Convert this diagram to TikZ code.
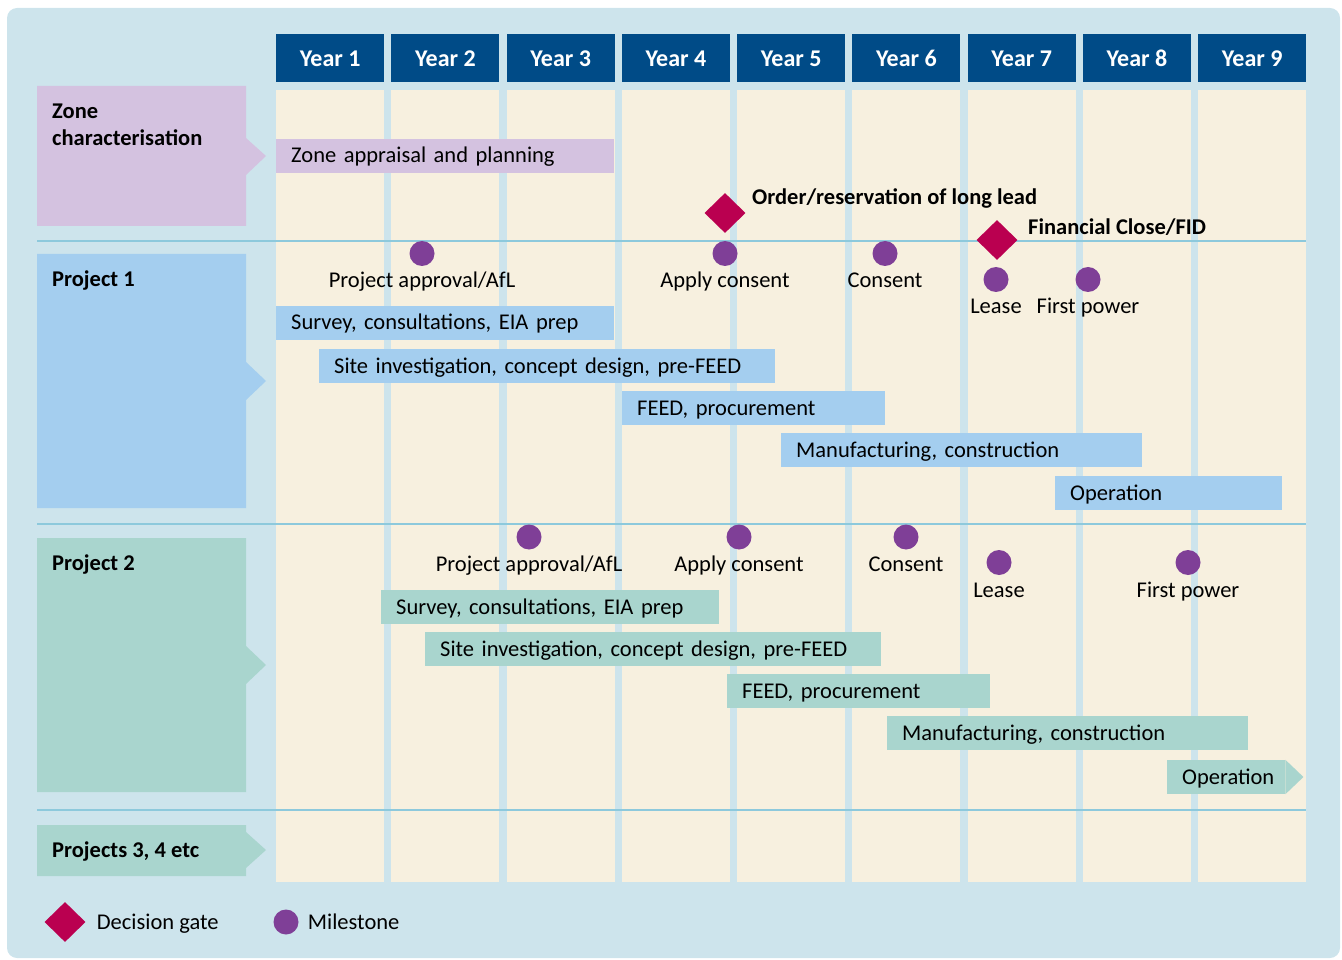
\documentclass[tikz,border=0pt]{standalone}
\usepackage{fontspec}
\setmainfont{Carlito}
\usepackage{tikz}
\usetikzlibrary{positioning,shapes.geometric,calc}
\definecolor{fondbleu}{HTML}{CDE4EC}
\definecolor{marine}{HTML}{004B87}
\definecolor{creme}{HTML}{F7F0DF}
\definecolor{lavande}{HTML}{D4C2E0}
\definecolor{bleuP}{HTML}{A4CEEF}
\definecolor{vertP}{HTML}{A9D5CE}
\definecolor{magenta}{HTML}{BA0050}
\definecolor{violet}{HTML}{7F3F97}
\definecolor{filet}{HTML}{8DC9DC}
\newcommand{\fs}{\fontsize{22.5}{27}\selectfont}
\tikzset{
  annee/.style={rectangle, fill=marine, text=white, font=\bfseries\fontsize{24}{28}\selectfont,
                anchor=north west, minimum width=108pt, minimum height=48pt, inner sep=0pt,
                text height=18pt, text depth=2pt},
  barre/.style={rectangle, fill=#1, anchor=west, align=left, font=\fs, inner xsep=15pt,
                inner ysep=0pt, minimum height=34pt, text height=17pt, text depth=3pt},
  titre/.style={anchor=north west, align=left, font=\bfseries\fs, inner sep=0pt},
  etiq/.style={font=\fs, inner sep=0pt, text height=15pt, text depth=5pt},
  legende/.style={font=\fs, inner sep=0pt, text height=17pt, text depth=3pt},
  gatelab/.style={font=\bfseries\fs, inner sep=0pt, anchor=base west},
  jalon/.style={circle, fill=violet, minimum size=25pt, inner sep=0pt},
  porte/.style={diamond, fill=magenta, minimum width=41pt, minimum height=40pt, inner sep=0pt},
  ligne/.style={draw=filet, line width=1.5pt},
}
\begin{document}
\begin{tikzpicture}[x=1pt, y=-1pt, node distance=6pt]
  \useasboundingbox (0,0) rectangle (1342,960);
  \fill[fondbleu, rounded corners=10pt] (7,8) rectangle (1340,958);
  % year columns
  \foreach \i in {1,...,9}{
    \pgfmathsetmacro\xg{276+(\i-1)*115.25}
    \fill[creme] (\xg,90) rectangle ++(108,792);
    \node[annee] (y\i) at (\xg,34) {Year \i};
  }
  \foreach \yl in {241,524,810} \draw[ligne] (37,\yl) -- (1306,\yl);
  % left panels
  \fill[lavande] (37,86) rectangle (246,226) (246,138) -- (266,156) -- (246,175) -- cycle;
  \fill[bleuP] (37,254) rectangle (246,508) (246,362) -- (266,381) -- (246,400) -- cycle;
  \fill[vertP] (37,538) rectangle (246,792) (246,646) -- (266,665) -- (246,684) -- cycle;
  \fill[vertP] (37,825) rectangle (246,876) (246,832) -- (266,850) -- (246,868) -- cycle;
  \node[titre] (tz) at (52,104) {Zone\\characterisation};
  \node[titre] (tp1) at (52,271) {Project 1};
  \node[titre] (tp2) at (52,555) {Project 2};
  \node[titre] (tp3) at (52,842) {Projects 3, 4 etc};
  % bars
  \node[barre=lavande, text width=308pt] (zap) at (276,156) {Zone appraisal and planning};
  \node[barre=bleuP, text width=308pt] (s1) at (276,323) {Survey, consultations, EIA prep};
  \node[barre=bleuP, text width=426pt] (si1) at (319,366) {Site investigation, concept design, pre-FEED};
  \node[barre=bleuP, text width=233pt] (fe1) at (622,408) {FEED, procurement};
  \node[barre=bleuP, text width=331pt] (mc1) at (781,450) {Manufacturing, construction};
  \node[barre=bleuP, text width=197pt] (op1) at (1055,493) {Operation};
  \node[barre=vertP, text width=308pt] (s2) at (381,607) {Survey, consultations, EIA prep};
  \node[barre=vertP, text width=426pt] (si2) at (425,649) {Site investigation, concept design, pre-FEED};
  \node[barre=vertP, text width=233pt] (fe2) at (727,691) {FEED, procurement};
  \node[barre=vertP, text width=331pt] (mc2) at (887,733) {Manufacturing, construction};
  \node[barre=vertP, text width=88pt] (op2) at (1167,777) {Operation};
  \fill[vertP] (op2.north east) -- ($(op2.east)+(18,0)$) -- (op2.south east) -- cycle;
  % decision gates
  \node[porte] (g1) at (725,213) {};
  \node[porte] (g2) at (997,240) {};
  \node[gatelab] (lg1) at (752,205) {Order/reservation of long lead};
  \node[gatelab] (lg2) at (1028,235) {Financial Close/FID};
  % milestones project 1
  \node[jalon] (m11) at (422,253.5) {};
  \node[jalon] (m12) at (725,253.5) {};
  \node[jalon] (m13) at (885,253.5) {};
  \node[jalon] (m14) at (996,279.5) {};
  \node[jalon] (m15) at (1088,279.5) {};
  \node[etiq, below=of m11] (l11) {Project approval/AfL};
  \node[etiq, below=of m12] (l12) {Apply consent};
  \node[etiq, below=of m13] (l13) {Consent};
  \node[etiq, below=of m14] (l14) {Lease};
  \node[etiq, below=of m15] (l15) {First power};
  % milestones project 2
  \node[jalon] (m21) at (529,537) {};
  \node[jalon] (m22) at (739,537) {};
  \node[jalon] (m23) at (906,537) {};
  \node[jalon] (m24) at (999,562.5) {};
  \node[jalon] (m25) at (1188,562.5) {};
  \node[etiq, below=7pt of m21] (l21) {Project approval/AfL};
  \node[etiq, below=7pt of m22] (l22) {Apply consent};
  \node[etiq, below=7pt of m23] (l23) {Consent};
  \node[etiq, below=7pt of m24] (l24) {Lease};
  \node[etiq, below=7pt of m25] (l25) {First power};
  % legend
  \node[porte] (lgp) at (65,922) {};
  \node[legende, right=11pt of lgp] (tgp) {Decision gate};
  \node[jalon] (lgj) at (286,922) {};
  \node[legende, right=9pt of lgj] (tgj) {Milestone};
\end{tikzpicture}
\end{document}
